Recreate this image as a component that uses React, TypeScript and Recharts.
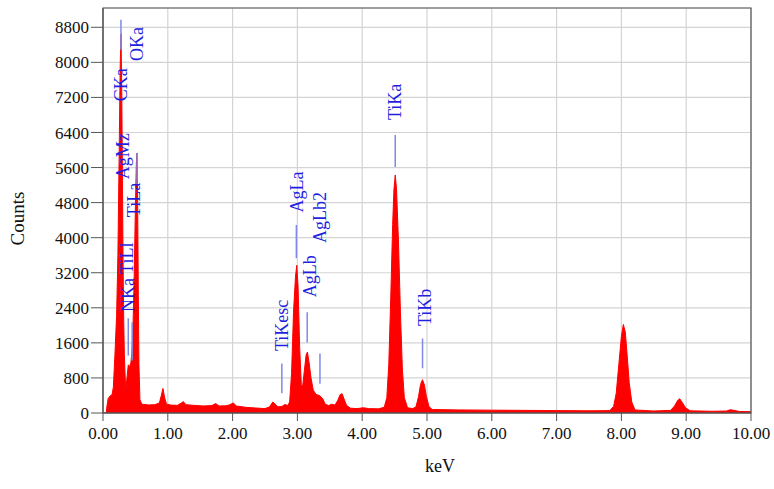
import React from 'react';
import {
  ComposedChart,
  Area,
  XAxis,
  YAxis,
  CartesianGrid,
  ReferenceLine,
  ReferenceDot,
  ReferenceArea,
} from 'recharts';

// EDS spectrum
const energy = [
  0.0, 0.05, 0.06, 0.08, 0.11, 0.14, 0.16, 0.185, 0.21, 0.23, 0.25, 0.265, 0.278, 0.29, 0.3, 0.31, 0.32,
  0.33, 0.35, 0.37, 0.39, 0.41, 0.43, 0.445, 0.46, 0.48, 0.5, 0.515, 0.525, 0.535, 0.545, 0.555, 0.57,
  0.6, 0.7, 0.8, 0.87, 0.9, 0.925, 0.95, 0.98, 1.05, 1.15, 1.21, 1.24, 1.28, 1.4, 1.55, 1.68, 1.74,
  1.79, 1.9, 1.96, 2.01, 2.06, 2.2, 2.35, 2.5, 2.57, 2.62, 2.66, 2.7, 2.76, 2.81, 2.85, 2.88, 2.91,
  2.94, 2.97, 2.99, 3.01, 3.035, 3.06, 3.08, 3.11, 3.135, 3.155, 3.18, 3.21, 3.245, 3.29, 3.34, 3.39,
  3.43, 3.48, 3.53, 3.58, 3.62, 3.66, 3.69, 3.72, 3.76, 3.82, 3.92, 4.02, 4.1, 4.25, 4.34, 4.38, 4.41,
  4.44, 4.47, 4.49, 4.51, 4.53, 4.56, 4.59, 4.62, 4.65, 4.7, 4.78, 4.83, 4.87, 4.9, 4.93, 4.96, 4.99,
  5.03, 5.08, 5.5, 6.0, 6.5, 7.0, 7.5, 7.82, 7.88, 7.92, 7.96, 8.0, 8.03, 8.06, 8.09, 8.12, 8.16, 8.21,
  8.5, 8.76, 8.82, 8.87, 8.9, 8.94, 8.99, 9.06, 9.4, 9.62, 9.68, 9.74, 9.82, 10.0,
];
const counts = [
  0, 0, 150, 330, 390, 420, 590, 1360, 2230, 3600, 6000, 7900, 8650, 7300, 5300, 3400, 2100,
  1300, 520, 800, 1100, 1050, 1150, 1350, 1800, 3000, 4700, 5700, 5930, 4800, 2700, 1100, 300,
  200, 185, 190, 230, 400, 560, 360, 200, 180, 175, 230, 260, 190, 175, 160, 170, 215,
  160, 165, 190, 230, 160, 130, 115, 100, 140, 250, 200, 140, 150, 195, 170, 250, 900,
  2300, 3100, 3370, 2900, 1500, 650, 600, 1000, 1330, 1390, 1150, 800, 520, 420, 400, 330,
  200, 170, 200, 180, 280, 420, 440, 320, 170, 110, 100, 120, 100, 95, 130, 350, 1100,
  2600, 4300, 5100, 5430, 5100, 3900, 2300, 1000, 350, 120, 100, 140, 380, 650, 760, 640, 380,
  150, 80, 70, 65, 60, 55, 50, 55, 150, 450, 1100, 1750, 2020, 1850, 1300, 700, 250, 70,
  45, 60, 160, 290, 325, 240, 120, 50, 40, 45, 75, 60, 35, 30,
];

const xTicks = [0, 1, 2, 3, 4, 5, 6, 7, 8, 9, 10];
const yTicks = [0, 800, 1600, 2400, 3200, 4000, 4800, 5600, 6400, 7200, 8000, 8800];

// peak marker lines (keV, top count, bottom count)
const markerKeV = [0.277, 0.525, 0.39, 0.45, 2.76, 2.984, 3.151, 3.348, 4.51, 4.931];
const markerTop = [8970, 5930, 2160, 2070, 1130, 4290, 2300, 1360, 6340, 1700];
const markerBottom = [8290, 5200, 1310, 1200, 450, 3530, 1610, 670, 5610, 1020];

// peak labels
const labelNames = ['CKa', 'OKa', 'AgMz', 'TiLa', 'TiLl', 'NKa', 'TiKesc', 'AgLa', 'AgLb2', 'AgLb', 'TiKa', 'TiKb'];
const labelKeV = [0.278, 0.525, 0.309, 0.478, 0.37, 0.386, 2.762, 2.994, 3.349, 3.194, 4.506, 4.969];
const labelCounts = [7490, 8420, 5860, 4860, 3530, 2690, 2000, 5040, 4460, 3120, 7100, 2410];

const serif = '"Liberation Serif", "Times New Roman", serif';
const labelBlue = '#1f1fe0';
const markerBlue = '#7f8ae6';
const axisColor = '#555';

const data = energy.map((kev, i) => ({ kev, counts: counts[i] }));

const PeakLabel = ({ cx, cy, text }: any) => (
  <text
    x={cx}
    y={cy}
    transform={`rotate(-90 ${cx} ${cy})`}
    textAnchor="middle"
    dominantBaseline="central"
    fontFamily={serif}
    fontSize={18}
    fill={labelBlue}
  >
    {text}
  </text>
);

export default function App() {
  return (
    <div style={{ position: 'absolute', left: 0, top: 0, width: 774, height: 489, background: '#fff' }}>
      <ComposedChart width={774} height={489} data={data} margin={{ top: 8, right: 23, left: 0, bottom: 0 }}>
        <CartesianGrid stroke="#d4d4d4" strokeWidth={1.2} />
        <XAxis
          dataKey="kev"
          type="number"
          domain={[0, 10]}
          ticks={xTicks}
          tickFormatter={(v: number) => v.toFixed(2)}
          height={76}
          tickSize={8}
          tickMargin={6}
          stroke={axisColor}
          tick={{ fill: '#111', fontSize: 17, fontFamily: serif }}
          label={{
            content: ({ viewBox }: any) => (
              <text
                x={viewBox.x + viewBox.width / 2 + 13}
                y={viewBox.y + 53}
                textAnchor="middle"
                dominantBaseline="central"
                fontFamily={serif}
                fontSize={18}
                fill="#111"
              >
                keV
              </text>
            ),
          }}
        />
        <YAxis
          type="number"
          domain={[0, 9240]}
          ticks={yTicks}
          allowDataOverflow
          width={103}
          tickSize={12}
          stroke={axisColor}
          tick={{ fill: '#111', fontSize: 17, fontFamily: serif }}
          label={{
            content: ({ viewBox }: any) => {
              const x = 17;
              const y = viewBox.y + viewBox.height / 2 + 8;
              return (
                <text
                  x={x}
                  y={y}
                  transform={`rotate(-90 ${x} ${y})`}
                  textAnchor="middle"
                  dominantBaseline="central"
                  fontFamily={serif}
                  fontSize={19}
                  fill="#111"
                >
                  Counts
                </text>
              );
            },
          }}
        />
        <Area
          type="linear"
          dataKey="counts"
          stroke="#ff0000"
          strokeWidth={1}
          fill="#ff0000"
          fillOpacity={1}
          isAnimationActive={false}
          dot={false}
          activeDot={false}
        />
        <ReferenceArea x1={0} x2={10} y1={0} y2={9240} fill="none" stroke={axisColor} strokeWidth={1.2} ifOverflow="visible" />
        {markerKeV.map((kev, i) => (
          <ReferenceLine
            key={`m${i}`}
            segment={[
              { x: kev, y: markerTop[i] },
              { x: kev, y: markerBottom[i] },
            ]}
            stroke={markerBlue}
            strokeWidth={1.5}
          />
        ))}
        {labelNames.map((name, i) => (
          <ReferenceDot
            key={`l${i}`}
            x={labelKeV[i]}
            y={labelCounts[i]}
            r={0}
            shape={(p: any) => <PeakLabel cx={p.cx} cy={p.cy} text={name} />}
          />
        ))}
      </ComposedChart>
    </div>
  );
}
